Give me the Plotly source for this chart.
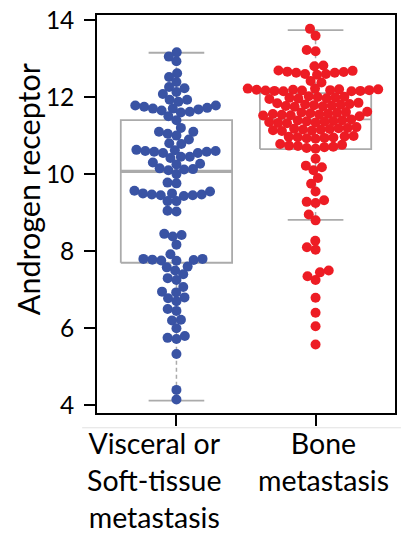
import numpy as np
import plotly.graph_objects as go

categories = ["Visceral or<br>Soft-tissue<br>metastasis", "Bone<br>metastasis"]
colors = ["#3953A4", "#ED1C24"]

visceral = [13.16, 13.05, 12.93, 12.62, 12.52, 12.39, 12.26, 12.23, 12.13, 12.08,
            11.93, 11.93, 11.88, 11.78, 11.78, 11.75, 11.72, 11.7, 11.68, 11.65, 11.62, 11.6, 11.7,
            11.5, 11.4, 11.2, 11.1, 11.0, 11.05, 11.1, 10.9, 10.8, 10.78,
            10.62, 10.6, 10.58, 10.55, 10.55, 10.58, 10.6, 10.63,
            10.45, 10.45, 10.42, 10.3, 10.27, 10.25, 10.15, 10.12, 10.13, 10.1, 10.0,
            9.78, 9.76, 9.57, 9.55,
            9.5, 9.47, 9.45, 9.43, 9.45, 9.47, 9.5,
            9.3, 9.3, 9.05, 9.03,
            8.45, 8.42, 8.38, 8.17, 7.92,
            7.8, 7.78, 7.76, 7.75, 7.77, 7.8,
            7.6, 7.58, 7.5, 7.4, 7.3, 7.25, 7.07,
            6.95, 6.93, 6.8, 6.78, 6.7, 6.5, 6.45, 6.22, 6.2, 6.0, 5.8, 5.75, 5.72,
            5.33, 4.4, 4.15]

bone = [13.77, 13.59, 13.22, 13.19, 12.82, 12.8, 12.42, 12.38,
        12.68, 12.65, 12.63, 12.6, 12.58, 12.6, 12.63, 12.66, 12.69,
        12.22, 12.2, 12.19, 12.18, 12.17, 12.16, 12.15, 12.15, 12.16, 12.17, 12.18, 12.19, 12.2, 12.22,
        12.02, 12.0, 11.98, 11.96, 11.95, 11.97, 11.99, 12.01,
        11.85, 11.82, 11.8, 11.78, 11.76, 11.75, 11.77, 11.79, 11.81, 11.84,
        11.62, 11.6, 11.58, 11.56, 11.54, 11.52, 11.5, 11.53, 11.55, 11.57, 11.59, 11.61,
        11.4, 11.38, 11.36, 11.34, 11.32, 11.33, 11.35, 11.37, 11.39, 11.42,
        11.2, 11.18, 11.16, 11.14, 11.12, 11.13, 11.15, 11.17, 11.19, 11.22,
        10.98, 10.96, 10.94, 10.92, 10.93, 10.95, 10.97, 10.99,
        10.78, 10.74, 10.71, 10.68, 10.66, 10.7, 10.73, 10.76,
        10.4, 10.22, 10.18, 10.1, 9.9, 9.75, 9.55, 9.32, 9.28, 9.25, 8.95, 8.8,
        8.27, 8.1, 8.04, 7.5, 7.45, 7.35, 7.25, 6.79, 6.4, 6.05, 5.58]

# box statistics: q1, median, q3, lower whisker, upper whisker
box_q1 = [7.7, 10.65]
box_median = [10.07, 11.42]
box_q3 = [11.4, 12.1]
box_low = [4.12, 8.81]
box_high = [13.15, 13.74]

y_ticks = [4, 6, 8, 10, 12, 14]

W, H = 402, 537
margin = dict(l=97, r=5, t=9, b=124)
xrange = [-0.571, 1.571]
yrange = [3.8, 14.13]
plot_w = W - margin["l"] - margin["r"]
plot_h = H - margin["t"] - margin["b"]
xpx = plot_w / (xrange[1] - xrange[0])
ypx = plot_h / (yrange[1] - yrange[0])

MARKER = 10
SPACING = 9.0


def swarm(vals, d):
    vals = np.asarray(vals, float)
    order = np.argsort(vals, kind="stable")
    placed = []
    xs = np.zeros(len(vals))
    for i in order:
        y = vals[i] * ypx
        near = [(px, py) for px, py in placed if abs(py - y) < d]
        cands = [0.0]
        for px, py in near:
            dx = np.sqrt(d * d - (py - y) ** 2)
            cands += [px + dx, px - dx]
        cands.sort(key=lambda c: (abs(c), c))
        for c in cands:
            if all((c - px) ** 2 + (y - py) ** 2 >= d * d - 1e-6 for px, py in near):
                xs[i] = c
                placed.append((c, y))
                break
    return xs / xpx


fig = go.Figure()
box_half = 0.4
cap_half = 0.2
gray = "#ABABAB"
for k, (vals, col) in enumerate(zip([visceral, bone], colors)):
    c = k
    fig.add_trace(go.Scatter(
        x=[c, c, None, c, c],
        y=[box_q3[k], box_high[k], None, box_q1[k], box_low[k]],
        mode="lines", line=dict(color=gray, width=1.5, dash="4px,3px"),
        hoverinfo="skip", showlegend=False))
    fig.add_trace(go.Scatter(
        x=[c - cap_half, c + cap_half, None, c - cap_half, c + cap_half],
        y=[box_high[k], box_high[k], None, box_low[k], box_low[k]],
        mode="lines", line=dict(color=gray, width=1.8),
        hoverinfo="skip", showlegend=False))
    fig.add_trace(go.Scatter(
        x=[c - box_half, c + box_half, c + box_half, c - box_half, c - box_half],
        y=[box_q1[k], box_q1[k], box_q3[k], box_q3[k], box_q1[k]],
        mode="lines", line=dict(color=gray, width=1.8),
        hoverinfo="skip", showlegend=False))
    fig.add_trace(go.Scatter(
        x=[c - box_half, c + box_half], y=[box_median[k], box_median[k]],
        mode="lines", line=dict(color=gray, width=3.2 if k == 0 else 1.8),
        hoverinfo="skip", showlegend=False))
    offs = swarm(vals, SPACING)
    fig.add_trace(go.Scatter(
        x=c + offs, y=vals, mode="markers",
        marker=dict(color=col, size=MARKER, line=dict(width=0)),
        showlegend=False))

FONT = "Lato"
label_x = [-0.157, 1.057]
for k, txt in enumerate(categories):
    fig.add_annotation(x=label_x[k], y=-0.031, xref="x", yref="paper",
                       text=txt, showarrow=False, xanchor="center", yanchor="top",
                       font=dict(family=FONT, size=28.5, color="black"), align="center",
                       borderpad=0)

fig.add_annotation(x=-0.232, y=0.562, xref="paper", yref="paper",
                   text="Androgen receptor", textangle=-90, showarrow=False,
                   xanchor="center", yanchor="middle",
                   font=dict(family=FONT, size=30.5, color="black"))

fig.update_layout(
    width=W, height=H, margin=margin,
    paper_bgcolor="white", plot_bgcolor="white",
    xaxis=dict(range=xrange, tickvals=[0, 1], showticklabels=False, ticks="outside",
               ticklen=11, tickwidth=1.5, tickcolor="black", showline=True, mirror=True,
               linecolor="black", linewidth=1.6, showgrid=False, zeroline=False),
    yaxis=dict(range=yrange, tickvals=y_ticks, ticks="outside", ticklen=11, tickwidth=1.5,
               tickcolor="black", showline=True, mirror=True, linecolor="black",
               linewidth=1.6, showgrid=False, zeroline=False,
               ticklabeloverflow="allow", ticklabelstandoff=5,
               tickfont=dict(family=FONT, size=24.5, color="black")),
)
fig.add_shape(type="line", xref="paper", yref="paper", x0=-0.05, x1=1.02,
              y0=-15 / plot_h, y1=-15 / plot_h, line=dict(color="#E2E2E2", width=1))

fig.write_html("out.html", config={"displayModeBar": False},
               post_script="document.body.style.margin='0';")
